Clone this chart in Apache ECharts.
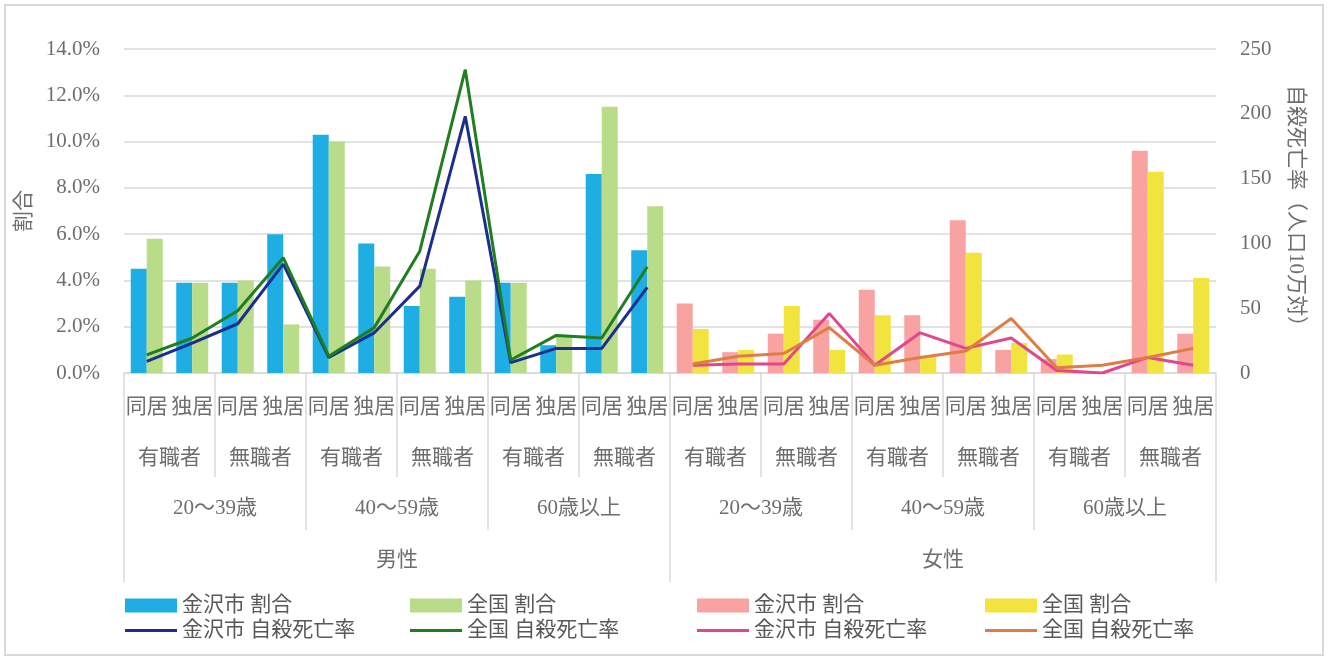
<!DOCTYPE html>
<html>
<head>
<meta charset="utf-8">
<script src="https://cdn.jsdelivr.net/npm/echarts@6/dist/echarts.min.js"></script>
<style>
  html, body { margin: 0; padding: 0; background: #fff; }
  #chart { width: 1328px; height: 661px; }
</style>
</head>
<body>
<div id="chart"></div>
<script>
// axis tiers
const houseTypes = ['同居', '独居'];
const jobTypes = ['有職者', '無職者'];
const ageGroups = ['20～39歳', '40～59歳', '60歳以上'];
const sexes = ['男性', '女性'];

// 割合 (%)
const maleCityShare = [4.5, 3.9, 3.9, 6.0, 10.3, 5.6, 2.9, 3.3, 3.9, 1.2, 8.6, 5.3];
const maleNationShare = [5.8, 3.9, 4.0, 2.1, 10.0, 4.6, 4.5, 4.0, 3.9, 1.6, 11.5, 7.2];
const femaleCityShare = [3.0, 0.9, 1.7, 2.3, 3.6, 2.5, 6.6, 1.0, 0.6, 0.0, 9.6, 1.7];
const femaleNationShare = [1.9, 1.0, 2.9, 1.0, 2.5, 0.7, 5.2, 1.3, 0.8, 0.0, 8.7, 4.1];

// 自殺死亡率 (人口10万対)
const maleCityRate = [9, 23, 38, 84, 12, 31, 67, 198, 8, 19, 19, 66];
const maleNationRate = [14, 27, 48, 89, 13, 35, 94, 234, 10, 29, 27, 82];
const femaleCityRate = [6, 7, 7, 46, 6, 31, 19, 27, 2, 0, 12, 6];
const femaleNationRate = [7, 13, 15, 35, 6, 12, 17, 42, 4, 6, 12, 19];

// build the category tiers
const sexAxis = sexes;
const ageAxis = [];
const jobAxis = [];
const houseAxis = [];
sexes.forEach(() => {
  ageGroups.forEach((age) => {
    ageAxis.push(age);
    jobTypes.forEach((job) => {
      jobAxis.push(job);
      houseTypes.forEach((h) => houseAxis.push(h));
    });
  });
});

const empty = Array(12).fill(null);
const male = (arr) => arr.concat(empty);
const female = (arr) => empty.concat(arr);

const FONT = '"Liberation Serif", "Noto Sans CJK JP", serif';
const TEXT = '#6e6e6e';
const LINE = '#d9d9d9';
const LINE_ICON = 'path://M0,0H52V3H0Z';

const chart = echarts.init(document.getElementById('chart'));

const tierAxis = (data, tickLen, margin, showLine) => ({
  type: 'category',
  position: 'bottom',
  gridIndex: 0,
  data: data,
  boundaryGap: true,
  axisLine: { show: showLine, lineStyle: { color: LINE, width: 1.5 } },
  axisTick: { show: tickLen > 0, interval: 0, length: tickLen, lineStyle: { color: LINE, width: 1.5 } },
  axisLabel: { interval: 0, margin: margin, color: TEXT, fontSize: 21, fontFamily: FONT },
  splitLine: { show: false },
});

const barSeries = (name, data, color, stack) => ({
  name: name,
  type: 'bar',
  data: data,
  stack: stack,
  barWidth: 16,
  barGap: '0%',
  itemStyle: { color: color },
});

const lineSeries = (name, data, color) => ({
  name: name,
  type: 'line',
  yAxisIndex: 1,
  data: data,
  symbol: 'none',
  connectNulls: false,
  lineStyle: { color: color, width: 3 },
  itemStyle: { color: color },
});

const legendCol = (left, barName, lineName) => ({
  orient: 'vertical',
  left: left,
  top: 590,
  itemWidth: 52,
  itemHeight: 14,
  itemGap: 4,
  data: [{ name: barName, icon: 'rect' }, { name: lineName, icon: LINE_ICON }],
  formatter: (name) => name.slice(3),
  textStyle: { color: '#595959', fontSize: 21, fontFamily: FONT },
});

chart.setOption({
  backgroundColor: '#fff',
  animation: false,
  grid: { left: 124, right: 112, top: 49, bottom: 288 },
  graphic: [{
    type: 'rect',
    shape: { x: 5, y: 5, width: 1318, height: 650 },
    style: { fill: 'none', stroke: LINE, lineWidth: 2 },
  }],
  legend: [
    legendCol(120, '男性 金沢市 割合', '男性 金沢市 自殺死亡率'),
    legendCol(405, '男性 全国 割合', '男性 全国 自殺死亡率'),
    legendCol(692, '女性 金沢市 割合', '女性 金沢市 自殺死亡率'),
    legendCol(980, '女性 全国 割合', '女性 全国 自殺死亡率'),
  ],
  xAxis: [
    tierAxis(houseAxis, 0, 24, true),
    tierAxis(jobAxis, 104, 75, false),
    tierAxis(ageAxis, 157, 125, false),
    tierAxis(sexAxis, 209, 177, false),
  ],
  yAxis: [
    {
      type: 'value',
      min: 0, max: 14, interval: 2,
      name: '割合',
      nameLocation: 'middle',
      nameGap: 84,
      nameTextStyle: { color: TEXT, fontSize: 21, fontFamily: FONT },
      axisLine: { show: false },
      axisTick: { show: false },
      axisLabel: { margin: 24, color: TEXT, fontSize: 21, fontFamily: FONT, formatter: (v) => v.toFixed(1) + '%' },
      splitLine: { lineStyle: { color: LINE, width: 1.5 } },
    },
    {
      type: 'value',
      min: 0, max: 250, interval: 50,
      name: '自殺死亡率（人口10万対）',
      nameLocation: 'middle',
      nameRotate: -90,
      nameGap: 69,
      nameTextStyle: { color: TEXT, fontSize: 21, fontFamily: FONT },
      axisLine: { show: false },
      axisTick: { show: false },
      axisLabel: { margin: 24, color: TEXT, fontSize: 21, fontFamily: FONT },
      splitLine: { show: false },
    },
  ],
  series: [
    barSeries('男性 金沢市 割合', male(maleCityShare), '#1eaee3', 'city'),
    barSeries('男性 全国 割合', male(maleNationShare), '#b9dc88', 'nation'),
    barSeries('女性 金沢市 割合', female(femaleCityShare), '#f8a3a1', 'city'),
    barSeries('女性 全国 割合', female(femaleNationShare), '#f1e43e', 'nation'),
    lineSeries('男性 金沢市 自殺死亡率', male(maleCityRate), '#1c2f8e'),
    lineSeries('男性 全国 自殺死亡率', male(maleNationRate), '#1f7d22'),
    lineSeries('女性 金沢市 自殺死亡率', female(femaleCityRate), '#e2468e'),
    lineSeries('女性 全国 自殺死亡率', female(femaleNationRate), '#de7d45'),
  ],
});
</script>
</body>
</html>
